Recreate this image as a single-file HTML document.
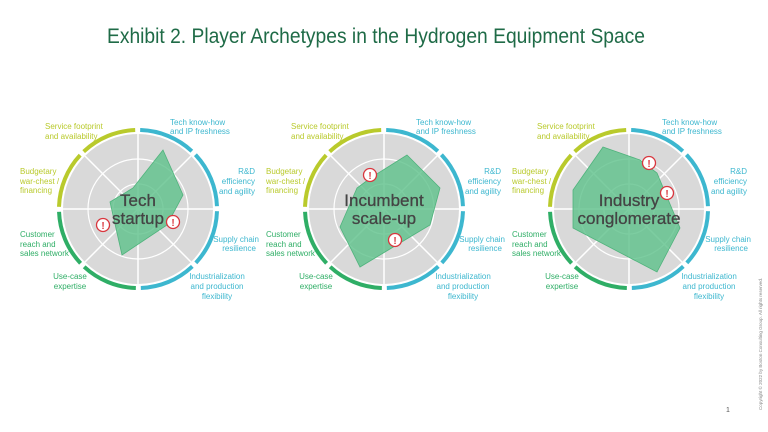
<!DOCTYPE html>
<html><head><meta charset="utf-8"><style>
html,body{margin:0;padding:0;background:#fff;}
svg{display:block;font-family:"Liberation Sans",sans-serif;}
.l{font-size:8px;}
.y{fill:#b9ca2c}.c{fill:#3db7cf}.g{fill:#2fae66}
.ct{font-size:17px;fill:#444;text-anchor:middle;stroke:#444;stroke-width:0.3;}
</style></head><body>
<svg width="768" height="432" viewBox="0 0 768 432">
<defs>
<g id="wheel">
<circle r="75" fill="#d9d9d9"/>
<circle r="25" fill="none" stroke="#fff" stroke-width="1.2"/>
<circle r="50" fill="none" stroke="#fff" stroke-width="1.2"/>
<g stroke="#fff" stroke-width="1.5">
<line x1="0" y1="-75" x2="0" y2="75"/><line x1="-75" y1="0" x2="75" y2="0"/>
<line x1="-53" y1="-53" x2="53" y2="53"/><line x1="-53" y1="53" x2="53" y2="-53"/>
</g>
<g fill="none" stroke-width="4">
<circle r="79" pathLength="360" stroke-dasharray="41 319" stroke="#3db7cf" transform="rotate(-88)"/>
<circle r="79" pathLength="360" stroke-dasharray="41 319" stroke="#3db7cf" transform="rotate(-43)"/>
<circle r="79" pathLength="360" stroke-dasharray="41 319" stroke="#3db7cf" transform="rotate(2)"/>
<circle r="79" pathLength="360" stroke-dasharray="41 319" stroke="#3db7cf" transform="rotate(47)"/>
<circle r="79" pathLength="360" stroke-dasharray="41 319" stroke="#2fae66" transform="rotate(92)"/>
<circle r="79" pathLength="360" stroke-dasharray="41 319" stroke="#2fae66" transform="rotate(137)"/>
<circle r="79" pathLength="360" stroke-dasharray="41 319" stroke="#b9ca2c" transform="rotate(182)"/>
<circle r="79" pathLength="360" stroke-dasharray="41 319" stroke="#b9ca2c" transform="rotate(227)"/>
</g>
</g>
<g id="labels">
<text class="l y" x="45" y="129">Service footprint</text>
<text class="l y" x="45" y="139">and availability</text>
<text class="l c" x="170" y="125">Tech know-how</text>
<text class="l c" x="170" y="134">and IP freshness</text>
<text class="l c" x="255" y="174" text-anchor="end">R&amp;D</text>
<text class="l c" x="255" y="184" text-anchor="end">efficiency</text>
<text class="l c" x="255" y="194" text-anchor="end">and agility</text>
<text class="l c" x="259" y="242" text-anchor="end">Supply chain</text>
<text class="l c" x="256" y="251" text-anchor="end">resilience</text>
<text class="l c" x="217" y="279" text-anchor="middle">Industrialization</text>
<text class="l c" x="217" y="289" text-anchor="middle">and production</text>
<text class="l c" x="217" y="299" text-anchor="middle">flexibility</text>
<text class="l g" x="70" y="279" text-anchor="middle">Use-case</text>
<text class="l g" x="70" y="289" text-anchor="middle">expertise</text>
<text class="l g" x="20" y="237">Customer</text>
<text class="l g" x="20" y="247">reach and</text>
<text class="l g" x="20" y="256">sales network</text>
<text class="l y" x="20" y="174">Budgetary</text>
<text class="l y" x="20" y="184">war-chest /</text>
<text class="l y" x="20" y="193">financing</text>
</g>
<g id="warn"><circle r="6.5" fill="#fff" stroke="#d9363e" stroke-width="1.3"/><text y="4" text-anchor="middle" font-size="10" font-weight="bold" fill="#d9363e">!</text></g>
</defs>

<text x="107" y="43" font-size="21" fill="#1f6b47" textLength="538" lengthAdjust="spacingAndGlyphs">Exhibit 2. Player Archetypes in the Hydrogen Equipment Space</text>

<use href="#wheel" x="138" y="209"/>
<use href="#wheel" x="384" y="209"/>
<use href="#wheel" x="629" y="209"/>
<use href="#labels"/>
<use href="#labels" x="246"/>
<use href="#labels" x="492"/>

<g fill="#5cc189" fill-opacity="0.8" stroke="#4fb37c" stroke-width="0.8">
<polygon points="163,150 183,195 167,225 122,255 110,202 133,188"/>
<polygon points="407,155 440,188 430,225 360,267 340,227 357,188 372,177"/>
<polygon points="603,147 640,160 657,173 680,228 657,272 573,228 573,190"/>
</g>

<text class="ct" x="138" y="206">Tech</text>
<text class="ct" x="138" y="224">startup</text>
<text class="ct" x="384" y="206">Incumbent</text>
<text class="ct" x="384" y="224">scale-up</text>
<text class="ct" x="629" y="206">Industry</text>
<text class="ct" x="629" y="224">conglomerate</text>

<use href="#warn" x="103" y="225"/>
<use href="#warn" x="173" y="222"/>
<use href="#warn" x="370" y="175"/>
<use href="#warn" x="395" y="240"/>
<use href="#warn" x="649" y="163"/>
<use href="#warn" x="667" y="193"/>

<text x="726" y="412" font-size="7" fill="#555">1</text>
<text transform="translate(762,410) rotate(-90)" font-size="4.5" fill="#888">Copyright © 2022 by Boston Consulting Group. All rights reserved.</text>
</svg>
</body></html>
